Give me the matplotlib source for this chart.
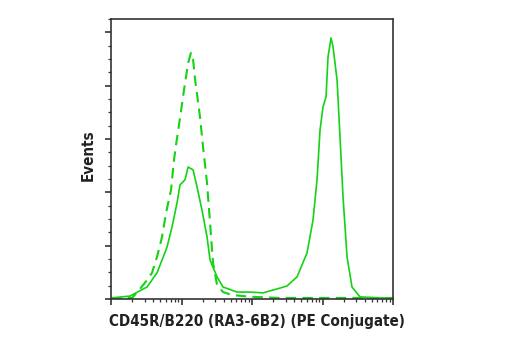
import matplotlib
matplotlib.use("Agg")
import matplotlib.pyplot as plt
from matplotlib.ticker import LogLocator, MultipleLocator, NullFormatter

plt.rcParams['font.family'] = ['DejaVu Sans']

green = '#14d214'

# stained sample (solid)
stained_x = [1.0, 1.86, 3.24, 4.49, 5.29, 6.23, 7.33, 8.63, 9.52, 11.2, 12.4, 14.6,
             16.6, 19.5, 23.0, 25.4, 31.9, 38.8, 61.3, 93.7, 143, 250, 314, 435,
             603, 733, 836, 922, 1016, 1122, 1197, 1321, 1410, 1607, 1771, 1954,
             2228, 2620, 3404, 6546, 10000]
stained_y = [0.4, 1.1, 4.5, 9.8, 14.6, 19.5, 27.0, 36.0, 42.8, 44.7, 49.5, 48.4,
             42.0, 33.4, 23.3, 14.6, 8.3, 4.5, 2.6, 2.6, 2.3, 4.1, 4.9, 8.3,
             17.3, 29.6, 44.7, 63.4, 72.0, 75.8, 90.8, 97.9, 94.6, 82.2, 60.8, 38.3,
             15.8, 4.5, 0.8, 0.4, 0.4]

# isotype control (dashed)
control_x = [1.0, 1.58, 1.99, 2.58, 3.24, 3.81, 4.49, 5.29, 6.03, 7.10, 7.83,
             8.36, 9.52, 10.85, 12.4, 13.6, 14.6, 15.6, 18.3, 20.2, 23.0, 25.4,
             28.0, 31.9, 38.8, 52.0, 74.8, 103, 250, 1277, 10000]
control_y = [0.0, 0.4, 0.4, 3.8, 7.1, 9.8, 15.8, 23.3, 32.3, 40.9, 52.2,
             57.8, 67.9, 78.4, 88.5, 92.3, 89.7, 82.2, 68.3, 57.0, 43.5, 28.5,
             13.5, 5.3, 2.6, 1.5, 1.1, 0.8, 0.4, 0.4, 0.4]

fig = plt.figure(figsize=(5.2, 3.5), dpi=100)
ax = fig.add_axes([0.2135, 0.1457, 0.5423, 0.8])

ax.plot(stained_x, stained_y, color=green, lw=1.2)
ax.plot(control_x, control_y, color=green, lw=1.5, dashes=(5, 3))

ax.set_xscale('log')
ax.set_xlim(1, 1e4)
ax.set_ylim(0, 105)

ax.xaxis.set_major_locator(LogLocator(base=10, numticks=10))
ax.xaxis.set_minor_locator(LogLocator(base=10, subs=range(2, 10), numticks=20))
ax.xaxis.set_major_formatter(NullFormatter())
ax.xaxis.set_minor_formatter(NullFormatter())
ax.yaxis.set_major_locator(MultipleLocator(20))
ax.yaxis.set_minor_locator(MultipleLocator(5))
ax.yaxis.set_major_formatter(NullFormatter())

for s in ax.spines.values():
    s.set_linewidth(1.2)
    s.set_color('#333333')
ax.tick_params(which='major', length=4.5, width=1.2, color='#333333')
ax.tick_params(which='minor', length=2.5, width=0.9, color='#333333')

label_font = dict(fontsize=10.9, fontweight='bold', fontstretch='condensed',
                  color='#222222')
ax.set_xlabel('CD45R/B220 (RA3-6B2) (PE Conjugate)', labelpad=3, **label_font)
ax.set_ylabel('Events', labelpad=3, **label_font)
ax.xaxis.label.set_x(0.518)
ax.yaxis.label.set_y(0.515)

fig.savefig('out.png', dpi=100)
